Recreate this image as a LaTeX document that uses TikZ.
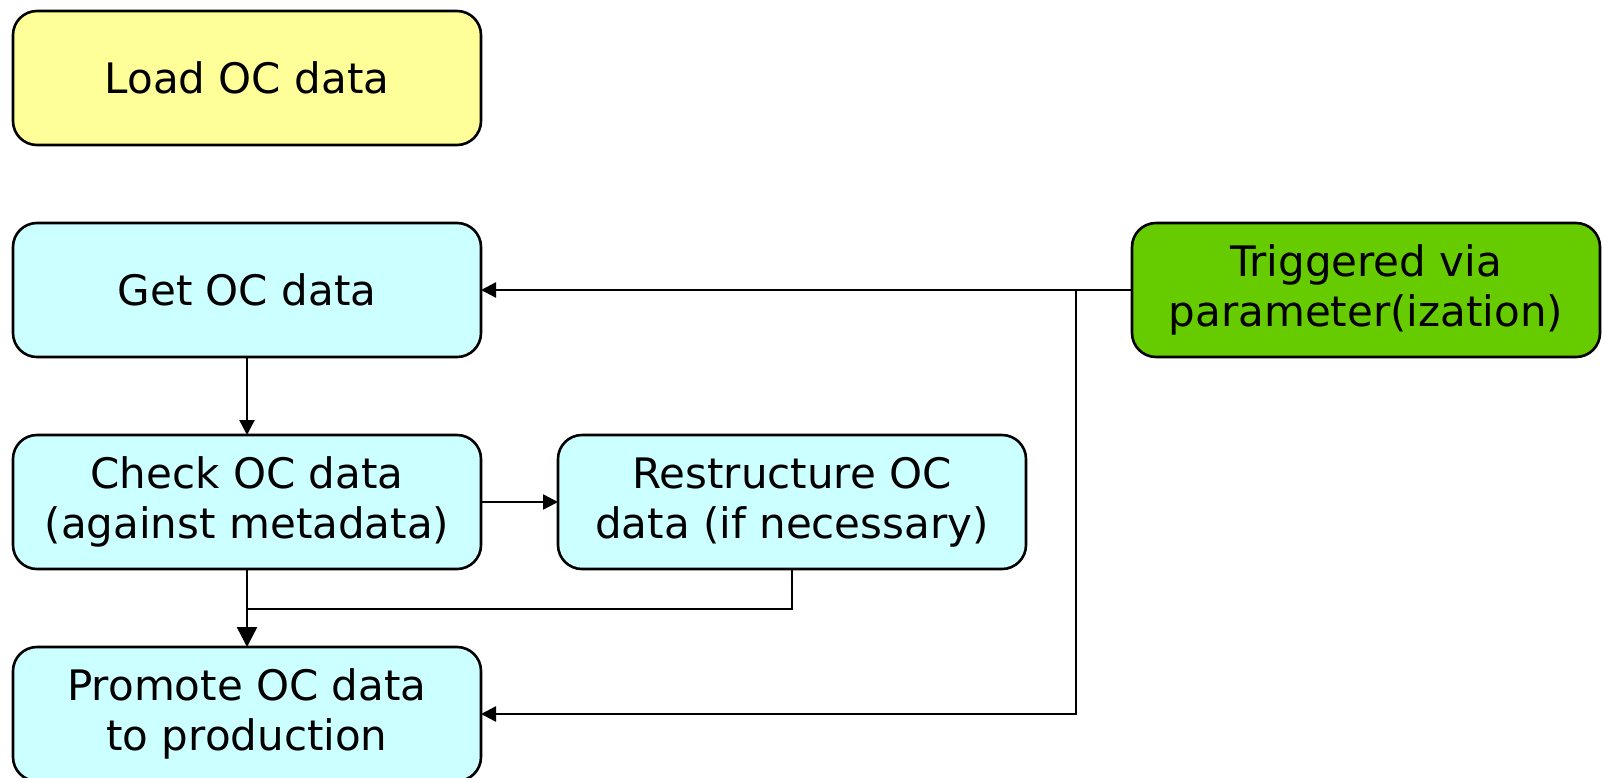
\documentclass[tikz,border=0pt]{standalone}
\usepackage{fontspec}
\setmainfont{DejaVu Sans}
\usetikzlibrary{arrows.meta,positioning}
\definecolor{loadfill}{HTML}{FFFF99}
\definecolor{stepfill}{HTML}{CCFFFF}
\definecolor{trigfill}{HTML}{66CC00}
\tikzset{
  box/.style={draw=black,line width=1.3pt,outer sep=0pt,rounded corners=12pt,fill=stepfill,minimum width=234pt,minimum height=67pt,inner sep=2pt,align=center,font=\fontsize{21}{25}\selectfont},
  boxy/.style={box,fill=loadfill},
  boxg/.style={box,fill=trigfill},
  ln/.style={draw=black,line width=1.2pt},
  ar/.style={-{Triangle[length=7.5pt,width=7.5pt]},ln},
  arb/.style={-{Triangle[length=10pt,width=10pt]},ln},
}

\begin{document}
\begin{tikzpicture}[node distance=39pt]
  \useasboundingbox (0,0) rectangle (802pt,-388.5pt);
  \node[boxy,anchor=north west] (load) at (6.5pt,-5.5pt) {Load OC data};
  \node[box,below=of load] (get) {Get OC data};
  \node[box,below=of get] (check) {Check OC data\\(against metadata)};
  \node[box,right=38.5pt of check] (restr) {Restructure OC\\data (if necessary)};
  \node[box,below=of check] (promote) {Promote OC data\\to production};
  \node[boxg,right=325.5pt of get] (trig) {Triggered via\\parameter(ization)};

  \coordinate[below=20pt of check.south] (join);

  \draw[ar] (get) -- (check);
  \draw[ar] (check) -- (restr);
  \draw[arb] (check) -- (promote);
  \draw[ln] (restr.south) |- (join);
  \draw[ar] (trig.west) -- (get.east);
  \draw[ar] (trig.west) -- ++(-28pt,0) |- (promote.east);
\end{tikzpicture}
\end{document}
